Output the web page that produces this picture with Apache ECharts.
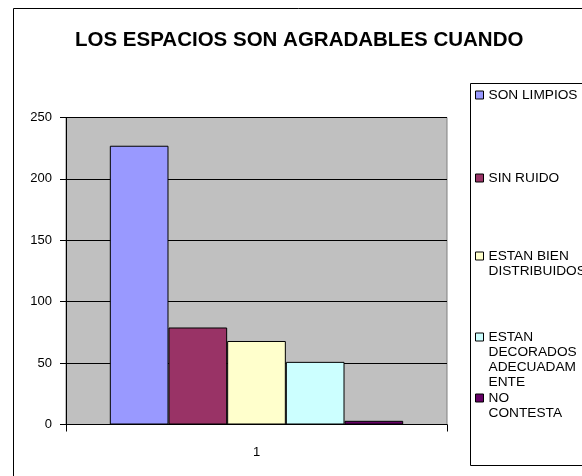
<!DOCTYPE html>
<html>
<head>
<meta charset="utf-8">
<script src="https://cdn.jsdelivr.net/npm/echarts@6/dist/echarts.min.js"></script>
<style>html,body{margin:0;padding:0;background:#fff;}#c{width:582px;height:476px;}</style>
</head>
<body>
<div id="c"></div>
<script>
const titleText = 'LOS ESPACIOS SON AGRADABLES CUANDO';
const categories = ['1'];
const seriesNames = ['SON LIMPIOS', 'SIN RUIDO', 'ESTAN BIEN DISTRIBUIDOS', 'ESTAN DECORADOS ADECUADAMENTE', 'NO CONTESTA'];
const legendLabels = ['SON LIMPIOS', 'SIN RUIDO', 'ESTAN BIEN\nDISTRIBUIDOS', 'ESTAN\nDECORADOS\nADECUADAM\nENTE', 'NO\nCONTESTA'];
const seriesValues = [227, 79, 68, 51, 3];
const seriesColors = ['#9999FF', '#993366', '#FFFFCC', '#CCFFFF', '#660066'];
const yTicks = [0, 50, 100, 150, 200, 250];

const FONT = "'Liberation Sans', Arial, sans-serif";
const LH = 15;
const legendCenters = [95, 178, 256, 337, 398];

const legends = seriesNames.map((name, i) => {
  const n = legendLabels[i].split('\n').length;
  return {
    data: [name],
    orient: 'vertical',
    left: 475,
    top: legendCenters[i] - (2 * n - 1) * LH / 2,
    padding: 0,
    itemWidth: 8,
    itemHeight: 8,
    itemGap: 0,
    icon: 'rect',
    selectedMode: false,
    itemStyle: { borderColor: '#000', borderWidth: 1 },
    formatter: () => '\n'.repeat(n - 1) + legendLabels[i],
    textStyle: { fontFamily: FONT, fontSize: 13.7, color: '#000', lineHeight: LH }
  };
});

const chart = echarts.init(document.getElementById('c'), null, { renderer: 'canvas' });
chart.setOption({
  animation: false,
  backgroundColor: '#fff',
  title: {
    text: titleText,
    left: 75,
    top: 28,
    padding: 0,
    textStyle: { fontFamily: FONT, fontSize: 20.5, fontWeight: 'bold', color: '#000', lineHeight: 24 }
  },
  graphic: [
    { type: 'rect', shape: { x: 13.5, y: 8.5, width: 700, height: 600 }, style: { fill: 'none', stroke: '#000', lineWidth: 1 }, silent: true, z: -1 },
    { type: 'rect', shape: { x: 470.5, y: 83.5, width: 300, height: 382 }, style: { fill: '#fff', stroke: '#000', lineWidth: 1 }, silent: true, z: -1 }
  ],
  legend: legends,
  grid: {
    left: 66, right: 135, top: 117.5, bottom: 51.5,
    show: true, backgroundColor: '#C0C0C0', borderColor: '#808080', borderWidth: 1
  },
  xAxis: {
    type: 'category',
    data: categories,
    axisLine: { lineStyle: { color: '#000', width: 1 } },
    axisTick: { show: true, length: 7, lineStyle: { color: '#000' } },
    axisLabel: { fontFamily: FONT, fontSize: 13, color: '#000', margin: 21 }
  },
  yAxis: {
    type: 'value',
    min: yTicks[0],
    max: yTicks[yTicks.length - 1],
    interval: yTicks[1] - yTicks[0],
    axisLine: { show: true, lineStyle: { color: '#000', width: 1 } },
    axisTick: { show: true, length: 6, lineStyle: { color: '#000' } },
    splitLine: { show: true, lineStyle: { color: '#000', width: 1 } },
    axisLabel: { fontFamily: FONT, fontSize: 13, color: '#000', margin: 14 }
  },
  series: seriesNames.map((name, i) => ({
    type: 'bar',
    name: name,
    data: [seriesValues[i]],
    barGap: '0%',
    barCategoryGap: '23%',
    itemStyle: { color: seriesColors[i], borderColor: '#000', borderWidth: 1 }
  }))
});
</script>
</body>
</html>
